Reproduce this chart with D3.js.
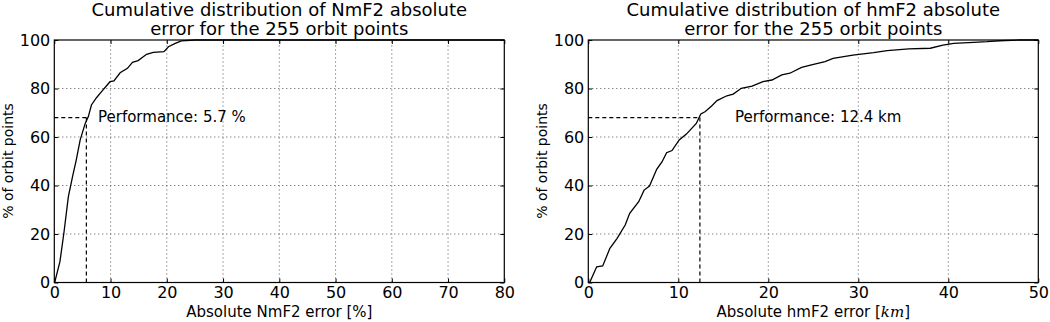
<!DOCTYPE html>
<html>
<head>
<meta charset="utf-8">
<script src="https://cdn.jsdelivr.net/npm/d3@7/dist/d3.min.js"></script>
<style>
body{margin:0;background:#fff;}
svg text{font-family:'DejaVu Sans',sans-serif;fill:#000;}
</style>
</head>
<body>
<script>
// left panel: NmF2 error (%) vs cumulative % of orbit points
var nmErr=[0,0.1,1.0,1.7,2.5,3.3,3.9,4.6,5.5,6.05,6.6,7.5,8.4,9.9,10.6,11.7,13,13.9,14.9,16.4,17.6,19.5,20.3,21.5,22.6,25,80];
var nmPct=[0,0.3,8.6,20.3,35.4,44.3,50.5,58.8,65.6,68.4,73.2,76.2,78.7,82.8,83.1,86.5,88.3,90.8,91.5,94.1,94.9,95.2,97.2,98.6,99.6,100,100];

// right panel: hmF2 error (km)
var hmErr=[0,0.19,0.93,1.6,2.4,3.2,4.1,4.6,5.6,6.2,6.8,7.6,8.2,8.7,9.3,10.1,10.9,12.0,12.5,12.97,13.7,14.3,15.4,16.1,17.0,18.2,19.4,20.4,21.5,22.4,23.7,24.8,26.3,27.2,29.4,31.7,33.2,35.6,38,39.4,40.6,42.8,44.3,45.7,47.9,50];
var hmPct=[0,0.3,6.5,6.8,14.1,18.2,23.7,28.5,33.3,38.1,39.8,46.7,49.8,53.5,54.4,58.8,61.2,65.6,69.5,70.4,72.8,75.0,77,77.7,80.1,81,82.8,83.5,85.6,86.3,88.7,89.7,91.1,92.4,93.8,94.8,95.6,96.3,96.6,97.9,98.6,99.0,99.3,99.7,100,100];

var titles=[['Cumulative distribution of NmF2 absolute','error for the 255 orbit points'],
            ['Cumulative distribution of hmF2 absolute','error for the 255 orbit points']];
var xMax=[80,50];
var xTicks=[[0,10,20,30,40,50,60,70,80],[0,10,20,30,40,50]];
var yTicks=[0,20,40,60,80,100];
var perfVal=[5.7,12.4];
var perfPct=68;
var perfText=['Performance: 5.7 %','Performance: 12.4 km'];

var width=1050,height=322;
var svg=d3.select('body').append('svg').attr('width',width).attr('height',height);

var panels=[
  {left:54.3,err:nmErr,pct:nmPct},
  {left:588.3,err:hmErr,pct:hmPct}
];

panels.forEach(function(p,i){
  var x=d3.scaleLinear().domain([0,xMax[i]]).range([p.left,p.left+450]);
  var y=d3.scaleLinear().domain([0,100]).range([282.5,40]);
  var g=svg.append('g');

  // grid
  g.selectAll('.gx').data(xTicks[i].slice(1,-1)).enter().append('line')
    .attr('x1',d=>x(d)).attr('x2',d=>x(d)).attr('y1',y(0)).attr('y2',y(100))
    .attr('stroke','#555').attr('stroke-width',1).attr('stroke-dasharray','1,3');
  g.selectAll('.gy').data(yTicks.slice(1,-1)).enter().append('line')
    .attr('x1',x(0)).attr('x2',x(xMax[i])).attr('y1',d=>y(d)).attr('y2',d=>y(d))
    .attr('stroke','#555').attr('stroke-width',1).attr('stroke-dasharray','1,3');

  // axes with inward ticks
  var xa=d3.axisBottom(x).tickValues(xTicks[i]).tickSizeInner(-4).tickSizeOuter(0).tickPadding(4);
  var ya=d3.axisLeft(y).tickValues(yTicks).tickSizeInner(-4).tickSizeOuter(0).tickPadding(4);
  var xt=d3.axisTop(x).tickValues(xTicks[i]).tickSizeInner(-4).tickSizeOuter(0).tickFormat('');
  var yr=d3.axisRight(y).tickValues(yTicks).tickSizeInner(-4).tickSizeOuter(0).tickFormat('');
  [ [xa,'translate(0,'+y(0)+')'],[ya,'translate('+x(0)+',0)'],
    [xt,'translate(0,'+y(100)+')'],[yr,'translate('+x(xMax[i])+',0)'] ].forEach(function(a){
    var ag=g.append('g').attr('transform',a[1]).call(a[0]);
    ag.select('.domain').remove();
    ag.selectAll('text').style('font-size','16px').style('font-family','DejaVu Sans');
    ag.selectAll('line').attr('stroke','#000');
  });

  // dashed performance lines
  g.append('line').attr('x1',x(0)).attr('x2',x(perfVal[i])).attr('y1',y(perfPct)).attr('y2',y(perfPct))
    .attr('stroke','#000').attr('stroke-width',1.2).attr('stroke-dasharray','4,3');
  g.append('line').attr('x1',x(perfVal[i])).attr('x2',x(perfVal[i])).attr('y1',y(perfPct)).attr('y2',y(0))
    .attr('stroke','#000').attr('stroke-width',1.2).attr('stroke-dasharray','4,3');

  // curve
  var line=d3.line().x(d=>x(d[0])).y(d=>y(d[1]));
  g.append('path').datum(d3.zip(p.err,p.pct)).attr('d',line)
    .attr('fill','none').attr('stroke','#000').attr('stroke-width',1.3);

  // frame
  g.append('rect').attr('x',x(0)).attr('y',y(100)).attr('width',450).attr('height',y(0)-y(100))
    .attr('fill','none').attr('stroke','#000').attr('stroke-width',1.2);

  // performance text
  g.append('text').attr('x',i==0?98:735).attr('y',122).style('font-size','15px').text(perfText[i]);

  // titles
  var cx=p.left+225;
  g.append('text').attr('x',cx).attr('y',16).attr('text-anchor','middle').style('font-size','18px').text(titles[i][0]);
  g.append('text').attr('x',cx).attr('y',35).attr('text-anchor','middle').style('font-size','18px').text(titles[i][1]);

  // y label
  g.append('text').attr('transform','translate('+(p.left-41.5)+',161) rotate(-90)')
    .attr('text-anchor','middle').style('font-size','14px').text('% of orbit points');

  // x label
  var xl=g.append('text').attr('x',cx).attr('y',317).attr('text-anchor','middle').style('font-size','15px');
  if(i==0){
    xl.text('Absolute NmF2 error [%]');
  }else{
    xl.append('tspan').text('Absolute hmF2 error [');
    xl.append('tspan').style('font-style','italic').style('font-family','DejaVu Serif').text('km');
    xl.append('tspan').text(']');
  }
});
</script>
</body>
</html>
